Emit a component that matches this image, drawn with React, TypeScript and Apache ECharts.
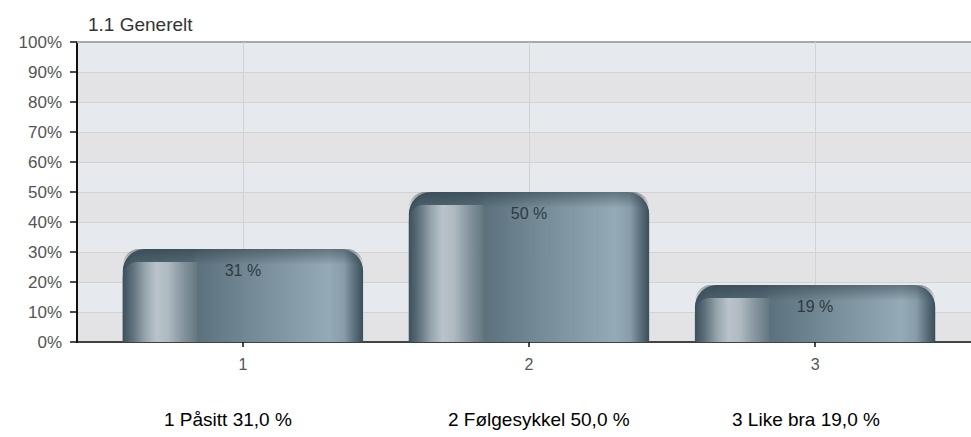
import React, { useEffect, useRef } from "react";
import * as echarts from "echarts";

const title = "1.1 Generelt";
const categories = ["1", "2", "3"];
const answerNames = ["Påsitt", "Følgesykkel", "Like bra"];
const values = [31, 50, 19];
const yTickValues = [0, 10, 20, 30, 40, 50, 60, 70, 80, 90, 100];

const AXIS_FONT = "Liberation Sans";

function lg(stops: [number, string][], vertical = false) {
  return new echarts.graphic.LinearGradient(
    0,
    0,
    vertical ? 0 : 1,
    vertical ? 1 : 0,
    stops.map(([offset, color]) => ({ offset, color }))
  );
}

const outerStops: [number, string][] = [
  [0, "#3b4f5a"],
  [0.05, "#4d626e"],
  [0.29, "#566b77"],
  [0.31, "#5c717e"],
  [0.55, "#758b97"],
  [0.86, "#94aab6"],
  [0.92, "#879da9"],
  [0.97, "#556a76"],
  [1, "#3b4e59"],
];
const innerStops: [number, string][] = [
  [0, "#3d515c"],
  [0.12, "#5a6d78"],
  [0.3, "#97a5ad"],
  [0.45, "#b9c3c9"],
  [0.6, "#b0bbc1"],
  [0.8, "#8796a0"],
  [1, "#63777f"],
];

export default function App() {
  const ref = useRef<HTMLDivElement>(null);

  useEffect(() => {
    document.body.style.margin = "0";
    if (!ref.current) return;
    const chart = echarts.init(ref.current, undefined, { renderer: "svg" });

    const catValues = categories.map((_, i) => i + 1);

    const option: any = {
      animation: false,
      title: {
        text: title,
        left: 88,
        top: 15,
        padding: 0,
        textStyle: {
          fontFamily: AXIS_FONT,
          fontSize: 19,
          fontWeight: "normal",
          color: "#333",
        },
      },
      grid: { left: 77, top: 42, right: 0, bottom: 95 },
      xAxis: [
        {
          type: "value",
          min: 0.42,
          max: 3.545,
          position: "bottom",
          axisLine: { show: true, onZero: false, lineStyle: { color: "#111", width: 1.5 } },
          axisTick: {
            show: true,
            customValues: catValues,
            length: 5,
            lineStyle: { color: "#111", width: 1.5 },
          },
          axisLabel: {
            customValues: catValues,
            formatter: (v: number) => categories[Math.round(v) - 1] ?? "",
            margin: 14,
            fontFamily: AXIS_FONT,
            fontSize: 16,
            color: "#555",
          },
          splitLine: { show: false },
        },
        {
          type: "value",
          min: 0.42,
          max: 3.545,
          position: "top",
          axisLine: { show: true, onZero: false, lineStyle: { color: "#a9a9a9", width: 2 } },
          axisTick: { show: false },
          axisLabel: { show: false },
          splitLine: { show: false },
        },
      ],
      yAxis: {
        type: "value",
        min: yTickValues[0],
        max: yTickValues[yTickValues.length - 1],
        interval: 10,
        axisLine: { show: true, lineStyle: { color: "#111", width: 2 } },
        axisTick: { show: true, length: 7, lineStyle: { color: "#111", width: 1.5 } },
        axisLabel: {
          formatter: "{value}%",
          margin: 15,
          fontFamily: AXIS_FONT,
          fontSize: 17,
          color: "#555",
        },
        splitLine: { show: true, lineStyle: { color: "#d2d2d2", width: 1 } },
        splitArea: { show: true, areaStyle: { color: ["#e3e3e5", "#e6eaee"] } },
      },
      graphic: categories.map((c, i) => ({
        type: "text",
        left: 164 + i * 284,
        top: 410,
        style: {
          text: `${c} ${answerNames[i]} ${values[i].toFixed(1).replace(".", ",")} %`,
          font: '19px "Liberation Sans", Arial, sans-serif',
          fill: "#000",
        },
      })),
      series: [
        {
          type: "custom",
          xAxisIndex: 0,
          yAxisIndex: 0,
          z: 3,
          data: values.map((v, i) => [i + 1, v]),
          encode: { x: 0, y: 1 },
          markLine: {
            silent: true,
            z: 1,
            symbol: ["none", "none"],
            label: { show: false },
            lineStyle: { color: "#d2d2d2", type: "solid", width: 1 },
            data: catValues.map((v) => ({ xAxis: v })),
          },
          renderItem: (params: any, api: any) => {
            const xv = api.value(0);
            const yv = api.value(1);
            const p = api.coord([xv, yv]);
            const b = api.coord([xv, 0]);
            const w = api.size([0.84, 0])[0];
            const left = p[0] - w / 2;
            const top = p[1];
            const h = b[1] - p[1];
            const bevel = 13;
            return {
              type: "group",
              children: [
                {
                  type: "rect",
                  shape: { x: left, y: top, width: w, height: h, r: [22, 22, 0, 0] },
                  style: { fill: lg(outerStops) },
                },
                {
                  type: "rect",
                  shape: { x: left, y: top, width: w, height: 16, r: [22, 22, 0, 0] },
                  style: {
                    fill: lg(
                      [
                        [0, "rgba(35,50,60,0.45)"],
                        [1, "rgba(35,50,60,0)"],
                      ],
                      true
                    ),
                  },
                },
                {
                  type: "rect",
                  shape: {
                    x: left,
                    y: top + bevel,
                    width: w * 0.31,
                    height: h - bevel,
                    r: [15, 0, 0, 0],
                  },
                  style: { fill: lg(innerStops) },
                },
                {
                  type: "text",
                  x: p[0],
                  y: top + 21,
                  style: {
                    text: `${yv} %`,
                    fill: "#2e3a42",
                    font: `16px "${AXIS_FONT}"`,
                    align: "center",
                    verticalAlign: "middle",
                  },
                },
              ],
            };
          },
        },
      ],
    };

    chart.setOption(option);
    return () => chart.dispose();
  }, []);

  return <div ref={ref} style={{ width: 971, height: 437 }} />;
}
